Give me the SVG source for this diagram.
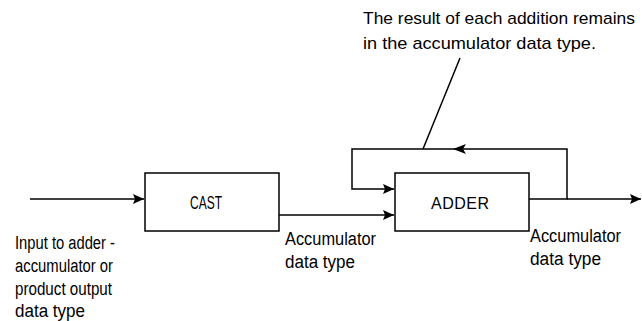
<svg xmlns="http://www.w3.org/2000/svg" width="642" height="321" viewBox="0 0 642 321">
<style>
.box{fill:#fff;stroke:#000;stroke-width:1.5}
.ln{fill:none;stroke:#000;stroke-width:1.5}
text{font-family:"Liberation Sans",Arial,sans-serif;font-size:18px;fill:#000}
text.sm{font-size:16px}
text.nt{font-size:17px}
</style>
<defs>
<marker id="ah" markerWidth="12" markerHeight="10" refX="11" refY="5" orient="auto" markerUnits="userSpaceOnUse">
<path d="M0,0 L11,5 L0,10 L2,5 Z" fill="#000"/>
</marker>
</defs>
<rect width="642" height="321" fill="#fff"/>
<g id="connectors">
<line class="ln" x1="30" y1="199" x2="144" y2="199" marker-end="url(#ah)"/>
<line class="ln" x1="279" y1="215" x2="394" y2="215" marker-end="url(#ah)"/>
<polyline class="ln" points="529,199 567,199 567,149 352,149 352,189 394,189" marker-end="url(#ah)"/>
<line class="ln" x1="567" y1="199" x2="641" y2="199" marker-end="url(#ah)"/>
<path d="M466,144 L453,149 L466,154 L463,149 Z" fill="#000"/>
<line class="ln" x1="460" y1="58" x2="423" y2="149"/>
</g>
<g id="cast">
<rect class="box" x="145" y="173" width="134" height="58"/>
<text x="206" y="209" text-anchor="middle" textLength="32" lengthAdjust="spacingAndGlyphs">CAST</text>
</g>
<g id="adder">
<rect class="box" x="395" y="173" width="134" height="58"/>
<text class="sm" x="460" y="209" text-anchor="middle" textLength="58">ADDER</text>
</g>
<g id="label-input">
<text x="15" y="249" textLength="100" lengthAdjust="spacingAndGlyphs">Input to adder -</text>
<text x="15" y="272" textLength="98" lengthAdjust="spacingAndGlyphs">accumulator or</text>
<text x="15" y="295" textLength="97" lengthAdjust="spacingAndGlyphs">product output</text>
<text x="15" y="317" textLength="70" lengthAdjust="spacingAndGlyphs">data type</text>
</g>
<g id="label-mid">
<text x="285" y="245" textLength="91" lengthAdjust="spacingAndGlyphs">Accumulator</text>
<text x="285" y="268" textLength="70" lengthAdjust="spacingAndGlyphs">data type</text>
</g>
<g id="label-out">
<text x="530" y="242" textLength="91" lengthAdjust="spacingAndGlyphs">Accumulator</text>
<text x="530" y="265" textLength="71" lengthAdjust="spacingAndGlyphs">data type</text>
</g>
<g id="note">
<text class="nt" x="363" y="24" textLength="272" lengthAdjust="spacingAndGlyphs">The result of each addition remains</text>
<text class="nt" x="363" y="49" textLength="233" lengthAdjust="spacingAndGlyphs">in the accumulator data type.</text>
</g>
</svg>
